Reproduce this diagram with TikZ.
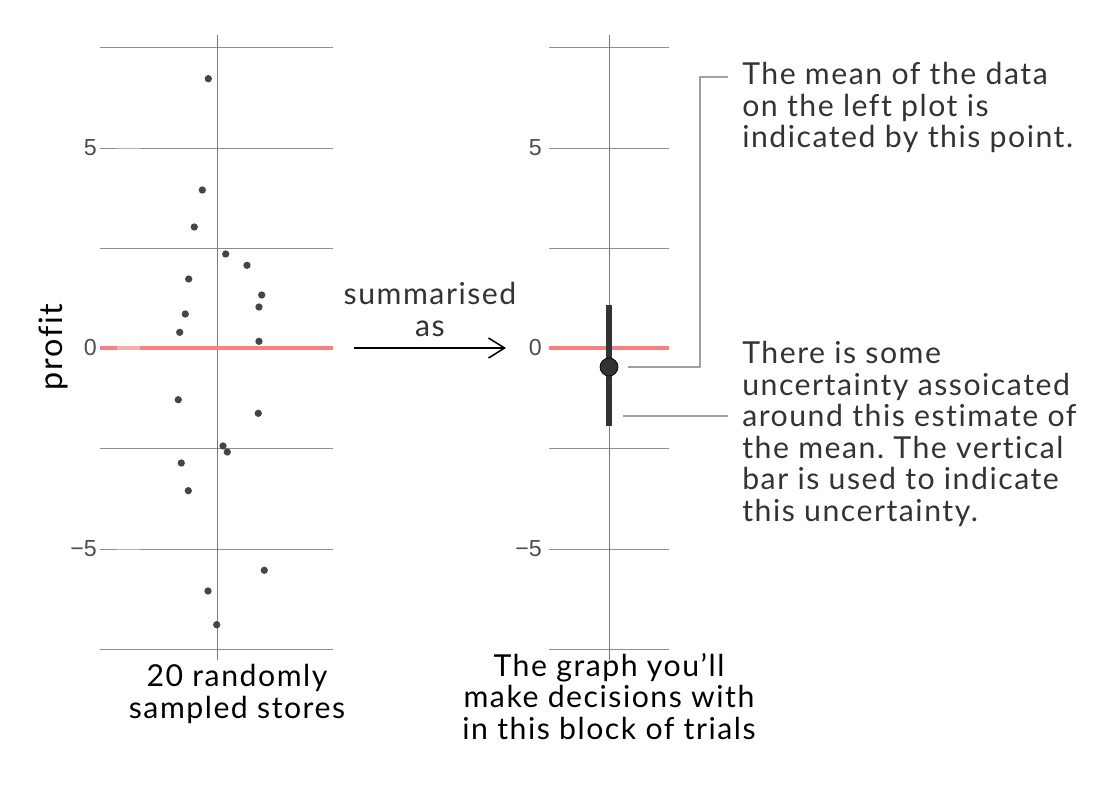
\documentclass[tikz,border=0pt]{standalone}
\usepackage{fontspec}
\setmainfont{Lato}[LetterSpace=5, Ligatures=NoCommon]
\newfontfamily\tickfont{Liberation Sans}
\frenchspacing
\definecolor{pfGrid}{HTML}{8E8E8E}
\definecolor{pfAxis}{HTML}{7A7A7A}
\definecolor{pfRed}{HTML}{F58382}
\definecolor{pfDot}{HTML}{454545}
\definecolor{pfMean}{HTML}{333333}
\definecolor{pfText}{HTML}{333333}
\definecolor{pfLabel}{HTML}{4D4D4D}
\definecolor{pfCallout}{HTML}{A0A0A0}
\usetikzlibrary{positioning,arrows.meta}

\tikzset{
  gridline/.style={draw=pfGrid, line width=0.7pt},
  axisline/.style={draw=pfAxis, line width=0.7pt},
  zeroline/.style={draw=pfRed, line width=2.4pt},
  ticklabel/.style={text=pfLabel, anchor=east, inner sep=0pt, font=\tickfont\fontsize{16.5}{18}\selectfont},
  note/.style={text=pfText, align=left, anchor=north west, inner sep=0pt, font=\fontsize{21.5}{22.4}\selectfont},
  caption/.style={align=center, anchor=north, inner sep=0pt, font=\fontsize{21.5}{22.4}\selectfont},
  callout/.style={draw=pfCallout, line width=1.4pt}
}

\begin{document}
\begin{tikzpicture}[x=0.025cm, y=-0.025cm]
  \useasboundingbox (0,0) rectangle (1117,792);

  % left plot: the 20 stores
  \foreach \y in {47,148,248,348,448,549,649}
    \draw[gridline] (100,\y) -- (333,\y);
  \draw[axisline] (217,35) -- (217,660);
  \draw[zeroline] (100,348) -- (333,348);
  \foreach \y in {148,348,549}
    \draw[white, opacity=0.35, line width=2.4pt] (117,\y) -- (140,\y);
  \foreach \px/\py in {208.3/78.7, 202.3/190, 194.3/227, 225.7/254, 247/265.3,
      188.7/279, 261.7/295, 259/307, 185.3/314, 179.7/332.3, 259/341.3,
      178.3/399.7, 258.3/413.3, 223/446, 227.3/452, 181.3/463, 188.3/490.7,
      264.3/570.3, 208/591, 216.7/624.7}
    \fill[pfDot] (\px,\py) circle (2.6pt);
  \node[ticklabel] (l5) at (97,148) {5};
  \node[ticklabel] (l0) at (97,348) {0};
  \node[ticklabel] (lm5) at (97,549) {−5};
  \node[rotate=90, font=\fontsize{23}{24}\selectfont] (ylab) at (53,347) {profit};
  \node[caption] (leftcap) at (237,664) {20 randomly\\sampled stores};

  % arrow between the plots
  \node[caption, text=pfText] (summ) at (430,282) {summarised\\as};
  \coordinate (arrfrom) at (354,348);
  \coordinate (arrto) at (506,348);
  \draw[line width=1.1pt, -{Straight Barb[length=0.4cm, width=0.5cm]}] (arrfrom) -- (arrto);

  % right plot: the mean with its interval
  \foreach \y in {47,148,248,348,448,549,649}
    \draw[gridline] (549,\y) -- (669,\y);
  \draw[axisline] (609,35) -- (609,660);
  \draw[zeroline] (549,348) -- (669,348);
  \node[ticklabel] (r5) at (542,148) {5};
  \node[ticklabel] (r0) at (542,348) {0};
  \node[ticklabel] (rm5) at (542,549) {−5};
  \draw[pfMean, line width=4.3pt] (609,305) -- (609,426);
  \node[circle, fill=pfMean, draw=black, line width=0.5pt, minimum size=0.45cm, inner sep=0pt] (mean) at (609,367) {};
  \node[caption] (rightcap) at (609,653) {The graph you’ll\\make decisions with\\in this block of trials};

  % notes
  \node[note] (meannote) at (742,62) {The mean of the data\\on the left plot is\\indicated by this point.};
  \node[note] (barnote) at (742,341) {There is some\\uncertainty assoicated\\around this estimate of\\the mean. The vertical\\bar is used to indicate\\this uncertainty.};
  \coordinate (meanend) at (728,77);
  \coordinate (barstart) at (623,416);
  \coordinate (barend) at (728,416);
  \draw[callout] ([xshift=0.25cm]mean.east) -| ([xshift=-0.7cm]meanend) -- (meanend);
  \draw[callout] (barstart) -- (barend);
\end{tikzpicture}
\end{document}
